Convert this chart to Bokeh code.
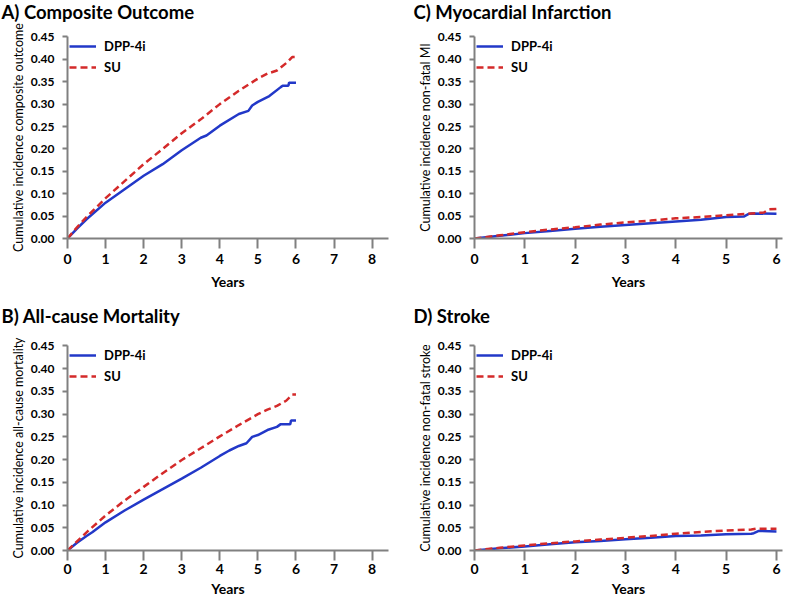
from bokeh.plotting import figure
from bokeh.layouts import column, row
from bokeh.models import Range1d, FixedTicker, Legend, PrintfTickFormatter, Title
from bokeh.embed import file_html
from bokeh.resources import INLINE

FONT = "Lato"
BLUE = "#2238c8"
RED = "#d42a2a"
AXIS = "#808080"

y_ticks = [0.0, 0.05, 0.10, 0.15, 0.20, 0.25, 0.30, 0.35, 0.40, 0.45]
x_ticks_ab = [0, 1, 2, 3, 4, 5, 6, 7, 8]
x_ticks_cd = [0, 1, 2, 3, 4, 5, 6]
series_names = ["DPP-4i", "SU"]

# A) Composite outcome
a_t_dpp = [0, 0.25, 0.5, 1, 1.5, 2, 2.5, 3, 3.5, 3.65, 4, 4.5, 4.75, 4.85, 5.0, 5.3, 5.6, 5.65, 5.8, 5.82, 6.0]
a_y_dpp = [0, 0.022, 0.043, 0.080, 0.110, 0.140, 0.166, 0.197, 0.225, 0.230, 0.252, 0.278, 0.285, 0.297, 0.305, 0.318, 0.338, 0.341, 0.341, 0.348, 0.348]
a_t_su = [0, 0.25, 0.5, 1, 1.5, 2, 2.5, 3, 3.5, 4, 4.5, 5, 5.25, 5.5, 5.75, 5.9, 6.0]
a_y_su = [0, 0.025, 0.048, 0.090, 0.128, 0.166, 0.200, 0.235, 0.266, 0.300, 0.330, 0.357, 0.368, 0.375, 0.392, 0.405, 0.405]

# B) All-cause mortality
b_t_dpp = [0, 0.25, 0.5, 0.65, 1, 1.5, 2, 2.5, 3, 3.5, 4, 4.25, 4.5, 4.7, 4.85, 5.0, 5.25, 5.5, 5.6, 5.85, 5.87, 6.0]
b_y_dpp = [0, 0.017, 0.032, 0.040, 0.062, 0.088, 0.112, 0.135, 0.158, 0.182, 0.208, 0.220, 0.230, 0.236, 0.250, 0.254, 0.265, 0.272, 0.278, 0.278, 0.286, 0.286]
b_t_su = [0, 0.25, 0.5, 1, 1.5, 2, 2.5, 3, 3.5, 4, 4.5, 5, 5.25, 5.5, 5.75, 5.9, 6.0]
b_y_su = [0, 0.020, 0.040, 0.077, 0.110, 0.140, 0.170, 0.199, 0.225, 0.251, 0.276, 0.300, 0.310, 0.318, 0.330, 0.343, 0.343]

# C) Myocardial infarction
c_t_dpp = [0, 0.5, 1, 1.5, 2, 2.5, 3, 3.5, 4, 4.5, 5, 5.35, 5.45, 5.5, 6.0]
c_y_dpp = [0, 0.006, 0.012, 0.017, 0.022, 0.026, 0.030, 0.034, 0.038, 0.042, 0.048, 0.049, 0.055, 0.056, 0.055]
c_t_su = [0, 0.5, 1, 1.5, 2, 2.5, 3, 3.5, 4, 4.5, 5, 5.5, 5.75, 5.85, 6.0]
c_y_su = [0, 0.007, 0.014, 0.020, 0.025, 0.031, 0.036, 0.040, 0.045, 0.048, 0.052, 0.056, 0.058, 0.065, 0.066]

# D) Stroke
d_t_dpp = [0, 0.5, 1, 1.5, 2, 2.5, 3, 3.5, 4, 4.5, 5, 5.5, 5.55, 5.65, 6.0]
d_y_dpp = [0, 0.005, 0.009, 0.014, 0.018, 0.021, 0.025, 0.028, 0.032, 0.033, 0.036, 0.037, 0.038, 0.043, 0.042]
d_t_su = [0, 0.5, 1, 1.5, 2, 2.5, 3, 3.5, 4, 4.5, 5, 5.5, 5.6, 6.0]
d_y_su = [0, 0.006, 0.011, 0.016, 0.020, 0.024, 0.028, 0.032, 0.037, 0.041, 0.044, 0.046, 0.048, 0.048]


def panel(title, ylabel, xticks, xend, t1, y1, t2, y2, w, h, bl, br, bt, bb,
          title_offset, spacer, ylab_standoff, xlab_standoff, xtick_standoff):
    p = figure(width=w, height=h, output_backend="svg", toolbar_location=None,
               x_range=Range1d(0, xend), y_range=Range1d(0, 0.451),
               min_border_left=bl, min_border_right=br,
               min_border_top=bt, min_border_bottom=bb)
    p.outline_line_color = None
    p.xgrid.visible = False
    p.ygrid.visible = False
    p.background_fill_color = "white"
    p.border_fill_color = "white"

    # blank spacer next to the frame, then the panel title above it
    p.add_layout(Title(text="\u00a0", text_font_size="1px", standoff=spacer,
                       text_color="white"), "above")
    p.add_layout(Title(text=title, text_font=FONT, text_font_size="18.5px",
                       text_font_style="bold", text_color="black",
                       align="left", offset=title_offset, standoff=0,
                       vertical_align="top"), "above")

    r1 = p.line(t1, y1, line_color=BLUE, line_width=2.5)
    r2 = p.line(t2, y2, line_color=RED, line_width=2.5, line_dash="7 4")

    for ax in (p.xaxis[0], p.yaxis[0]):
        ax.axis_line_color = AXIS
        ax.axis_line_width = 2
        ax.major_tick_line_color = AXIS
        ax.major_tick_line_width = 2
        ax.minor_tick_line_color = None
        ax.major_tick_in = 0
        ax.major_label_text_font = FONT
        ax.major_label_text_font_style = "bold"
        ax.major_label_text_color = "black"
        ax.axis_label_text_font = FONT
        ax.axis_label_text_color = "black"

    p.xaxis.ticker = FixedTicker(ticks=xticks)
    p.xaxis.major_tick_out = 10
    p.xaxis.major_label_standoff = xtick_standoff
    p.xaxis.major_label_text_font_size = "14px"
    p.xaxis.axis_label = "Years"
    p.xaxis.axis_label_text_font_size = "14px"
    p.xaxis.axis_label_text_font_style = "bold"
    p.xaxis.axis_label_standoff = xlab_standoff

    p.yaxis.ticker = FixedTicker(ticks=y_ticks)
    p.yaxis.formatter = PrintfTickFormatter(format="%.2f")
    p.yaxis.major_tick_out = 5
    p.yaxis.major_label_standoff = 8
    p.yaxis.major_label_text_font_size = "12px"
    p.yaxis.axis_label = ylabel
    p.yaxis.axis_label_text_font_size = "12.5px"
    p.yaxis.axis_label_text_font_style = "normal"
    p.yaxis.axis_label_standoff = ylab_standoff

    legend = Legend(items=[(series_names[0], [r1]), (series_names[1], [r2])],
                    location="top_left")
    legend.border_line_color = None
    legend.background_fill_alpha = 0
    legend.label_text_font = FONT
    legend.label_text_font_style = "bold"
    legend.label_text_font_size = "13px"
    legend.label_text_color = "black"
    legend.glyph_width = 27
    legend.glyph_height = 16
    legend.label_height = 16
    legend.spacing = 5
    legend.padding = 3
    legend.margin = 2
    legend.label_standoff = 8
    p.add_layout(legend)
    return p


TOP_H, BOT_H = 292, 308
pA = panel("A) Composite Outcome", "Cumulative incidence composite outcome",
           x_ticks_ab, 8.43, a_t_dpp, a_y_dpp, a_t_su, a_y_su,
           392, TOP_H, 67, 4, 36, 50, -66, 9, 2, 6, 5)
pC = panel("C) Myocardial Infarction", "Cumulative incidence non-fatal MI",
           x_ticks_cd, 6.12, c_t_dpp, c_y_dpp, c_t_su, c_y_su,
           392, TOP_H, 82, 2, 36, 50, -61, 9, 2, 6, 5)
pB = panel("B) All-cause Mortality", "Cumulative incidence all-cause mortality",
           x_ticks_ab, 8.43, b_t_dpp, b_y_dpp, b_t_su, b_y_su,
           392, BOT_H, 67, 4, 53, 50, -66, 14, 2, 3, 3)
pD = panel("D) Stroke", "Cumulative incidence non-fatal stroke",
           x_ticks_cd, 6.12, d_t_dpp, d_y_dpp, d_t_su, d_y_su,
           392, BOT_H, 82, 2, 53, 50, -61, 14, 2, 3, 3)

layout = column(row(pA, pC), row(pB, pD))

open("out.html", "w").write(file_html(layout, INLINE))
